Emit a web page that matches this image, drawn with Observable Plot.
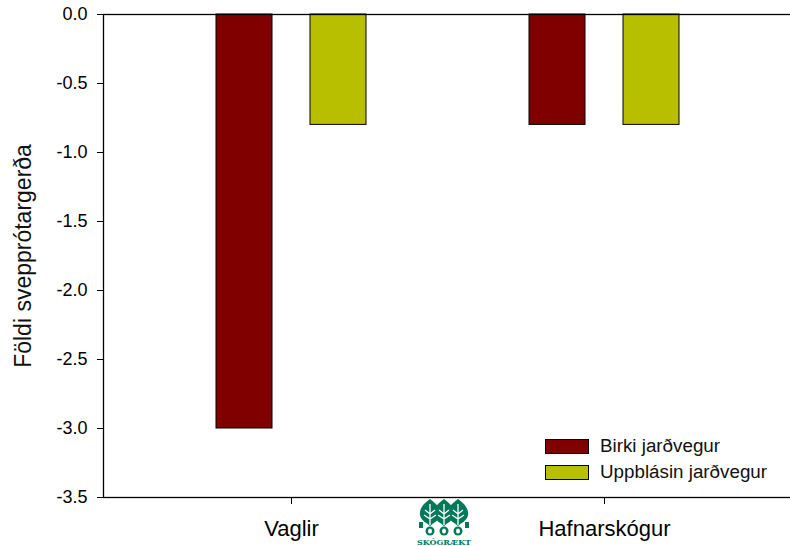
<!DOCTYPE html>
<html>
<head>
<meta charset="utf-8">
<script src="https://cdn.jsdelivr.net/npm/d3@7"></script>
<script src="https://cdn.jsdelivr.net/npm/@observablehq/plot@0.6"></script>
<style>
  html, body { margin: 0; padding: 0; overflow: hidden; background: #fff; width: 790px; height: 546px; }
  #wrap { position: relative; width: 790px; height: 546px; font-family: "Liberation Sans", Arial, Helvetica, sans-serif; }
  #wrap svg { max-width: none !important; }
  g[aria-label^="x-axis"] text { font-size: 22px; }
  #legend { position: absolute; left: 545px; top: 433px; font-size: 18.8px; color: #111; }
  #legend .row { display: flex; align-items: center; height: 26px; }
  #legend .sw { width: 44px; height: 15px; box-sizing: border-box; border: 1.2px solid #000; margin-right: 11px; }
  #logo { position: absolute; left: 409px; top: 498px; }
</style>
</head>
<body>
<div id="wrap"></div>
<script>
const sites = ["Vaglir", "Hafnarskógur"];
const seriesNames = ["Birki jarðvegur", "Uppblásin jarðvegur"];
const birkiValues = [-3.0, -0.8];
const uppblasinValues = [-0.8, -0.8];
const yTicks = [0, -0.5, -1.0, -1.5, -2.0, -2.5, -3.0, -3.5];
const yLabel = "Földi svepprótargerða";
const seriesColors = ["#800000", "#b8bf00"];

const birkiData = sites.map((s, i) => ({site: s, value: birkiValues[i]}));
const uppData = sites.map((s, i) => ({site: s, value: uppblasinValues[i]}));

const chart = Plot.plot({
  width: 793,
  height: 546,
  marginLeft: 103,
  marginRight: 0,
  marginTop: 14,
  marginBottom: 49,
  style: {fontSize: "18px", fontFamily: "'Liberation Sans', Arial, Helvetica, sans-serif", color: "#000", background: "transparent", overflow: "visible"},
  x: {domain: sites, padding: 0.2, label: null, tickSize: 7, tickPadding: 16},
  y: {domain: [-3.5, 0], ticks: yTicks, tickFormat: d => d.toFixed(1), label: null, tickSize: 6, tickPadding: 10},
  marks: [
    Plot.barY(birkiData, {x: "site", y: "value", fill: seriesColors[0], stroke: "#000", strokeWidth: 1, insetLeft: 50, insetRight: 144}),
    Plot.barY(uppData, {x: "site", y: "value", fill: seriesColors[1], stroke: "#000", strokeWidth: 1, insetLeft: 144, insetRight: 50}),
    Plot.frame({stroke: "#000", strokeWidth: 1.3}),
    Plot.text([yLabel], {frameAnchor: "left", textAnchor: "middle", rotate: -90, dx: -80, fontSize: 23, fill: "#111"})
  ]
});
const wrap = document.getElementById("wrap");
wrap.appendChild(chart);

// legend
const legend = document.createElement("div");
legend.id = "legend";
seriesNames.forEach((name, i) => {
  const row = document.createElement("div");
  row.className = "row";
  const sw = document.createElement("div");
  sw.className = "sw";
  sw.style.background = seriesColors[i];
  const t = document.createElement("span");
  t.textContent = name;
  row.appendChild(sw);
  row.appendChild(t);
  legend.appendChild(row);
});
wrap.appendChild(legend);

// logo (approximation)
const logo = document.createElement("div");
logo.id = "logo";
const g = "#00785a";
let trees = "";
[21, 35, 49].forEach(cx => {
  trees += `<path d="M${cx} 1 C${cx+4} 4 ${cx+11} 9 ${cx+10} 17 C${cx+9} 23 ${cx+3} 25 ${cx} 28 C${cx-3} 25 ${cx-9} 23 ${cx-10} 17 C${cx-11} 9 ${cx-4} 4 ${cx} 1 Z" fill="${g}"/>`;
});
let lines = "";
[21, 35, 49].forEach(cx => {
  lines += `<path d="M${cx} 6 L${cx} 27 M${cx-5} 12 L${cx} 16 L${cx+5} 12 M${cx-6} 17 L${cx} 21 L${cx+6} 17" stroke="#fff" stroke-width="1.3" fill="none"/>`;
  lines += `<ellipse cx="${cx}" cy="33" rx="4.5" ry="4.5" fill="${g}"/><ellipse cx="${cx}" cy="33" rx="2" ry="2.5" fill="#fff"/>`;
});
logo.innerHTML = `<svg width="70" height="48" viewBox="0 0 70 48">${trees}${lines}
  <rect x="10" y="24" width="4" height="6" fill="${g}"/><rect x="56" y="24" width="4" height="6" fill="${g}"/>
  <text x="35" y="47" text-anchor="middle" font-size="8" font-weight="bold" font-family="'DejaVu Serif', serif" fill="${g}">SKÓGRÆKT</text></svg>`;
wrap.appendChild(logo);
</script>
</body>
</html>
